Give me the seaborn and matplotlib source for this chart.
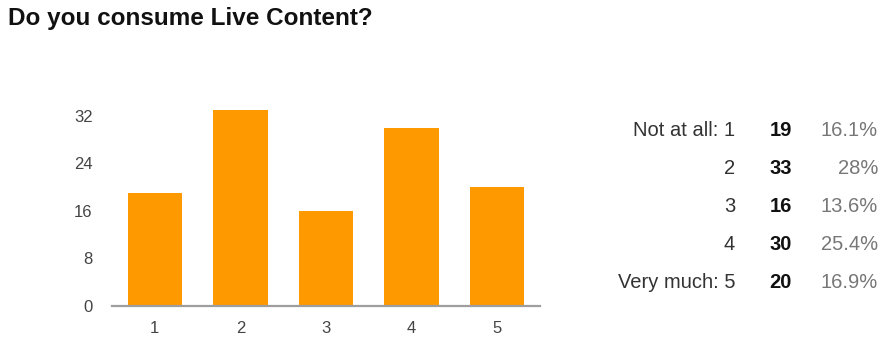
import matplotlib
matplotlib.use("Agg")
import matplotlib.pyplot as plt
import seaborn as sns
import pandas as pd

title = "Do you consume Live Content?"
categories = ["1", "2", "3", "4", "5"]
counts = [19, 33, 16, 30, 20]
row_labels = ["Not at all: 1", "2", "3", "4", "Very much: 5"]
percents = ["16.1%", "28%", "13.6%", "25.4%", "16.9%"]
yticks = [0, 8, 16, 24, 32]

sns.set_theme(style="white")
plt.rcParams['font.family'] = ['Liberation Sans', 'DejaVu Sans']

W, H = 882, 338
fig = plt.figure(figsize=(W / 100, H / 100), dpi=100)
ax = fig.add_axes([112 / W, (H - 306) / H, 428 / W, 202 / H])

df = pd.DataFrame({"cat": categories, "count": counts})
sns.barplot(data=df, x="cat", y="count", color="#FF9900", saturation=1,
            width=0.635, ax=ax, edgecolor="none")

ax.set_xlim(-0.5, 4.5)
ax.set_ylim(0, 34)
ax.set_yticks(yticks)
ax.set_yticklabels([str(v) for v in yticks])
ax.set_xlabel("")
ax.set_ylabel("")
for s in ["top", "right", "left"]:
    ax.spines[s].set_visible(False)
ax.spines["bottom"].set_color("#9e9e9e")
ax.spines["bottom"].set_linewidth(1.6)
ax.tick_params(axis="y", length=0, pad=14, labelsize=12, labelcolor="#444444")
ax.tick_params(axis="x", length=0, pad=11, labelsize=12, labelcolor="#444444")
ax.grid(False)

fig.text(8 / W, 1 - 19 / H, title, ha="left", va="center",
         fontsize=17.5, fontweight="bold", color="#111111")

row_y = [131, 169, 207, 245, 283]
for lab, c, p, y in zip(row_labels, counts, percents, row_y):
    fy = 1 - y / H
    fig.text(735 / W, fy, lab, ha="right", va="center", fontsize=14.5, color="#333333")
    fig.text(792 / W, fy, str(c), ha="right", va="center", fontsize=14.5,
             fontweight="bold", color="#111111")
    fig.text(878 / W, fy, p, ha="right", va="center", fontsize=14.5, color="#777777")

fig.savefig("out.png", dpi=100, facecolor="white")
